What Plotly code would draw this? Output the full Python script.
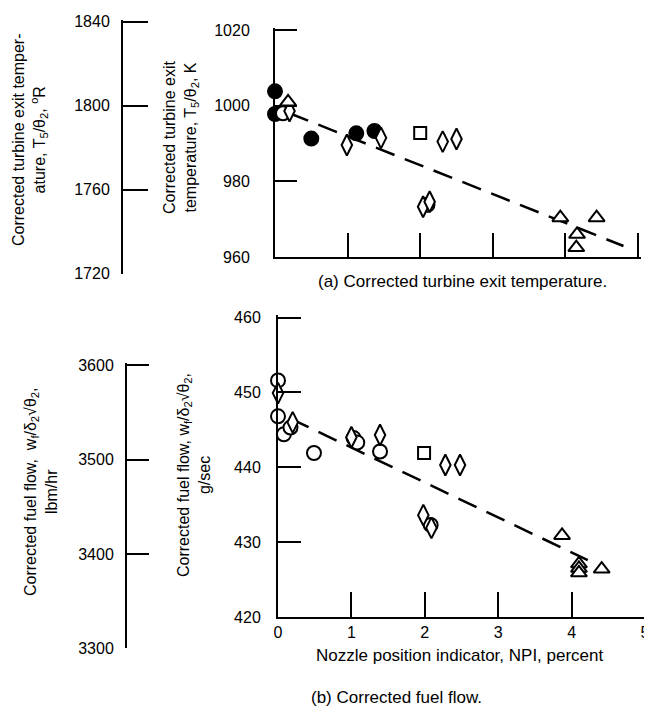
import plotly.graph_objects as go

# page is 652x716; the html body adds an 8 px margin before the figure starts
PAGE_W, PAGE_H, OFF = 652, 716, 8
W, H = PAGE_W, PAGE_H
FONT = "Liberation Sans, Arial, sans-serif"

# ---------------- data: (a) corrected turbine exit temperature, K ----------------
a_filled_x = [0.0, 0.0, 0.5, 1.12, 1.37]
a_filled_y = [1003.8, 997.8, 991.3, 992.7, 993.3]
a_circle_x = [0.11, 2.1]
a_circle_y = [998.0, 973.8]
a_diamond_x = [0.2, 0.99, 1.46, 2.04, 2.13, 2.31, 2.5]
a_diamond_y = [998.6, 989.6, 991.5, 973.3, 974.6, 990.5, 991.2]
a_square_x = [2.0]
a_square_y = [992.8]
a_triangle_x = [0.18, 3.93, 4.43, 4.16, 4.15]
a_triangle_y = [1001.0, 970.4, 970.4, 966.0, 962.5]
a_fit_x = [0.2, 4.8]
a_fit_y = [998.0, 962.9]

# ---------------- data: (b) corrected fuel flow, g/sec ----------------
b_circle_x = [0.0, 0.0, 0.08, 0.17, 0.49, 1.03, 1.08, 1.39, 2.08]
b_circle_y = [451.6, 446.8, 444.4, 445.3, 441.9, 443.9, 443.3, 442.1, 432.3]
b_diamond_x = [0.0, 0.2, 1.0, 1.39, 2.28, 2.48, 1.98, 2.09]
b_diamond_y = [449.9, 446.0, 444.0, 444.3, 440.3, 440.3, 433.6, 431.9]
b_square_x = [1.99]
b_square_y = [441.9]
b_triangle_x = [3.87, 4.1, 4.1, 4.1, 4.41]
b_triangle_y = [430.9, 427.1, 426.5, 425.9, 426.4]
b_fit_x = [0.17, 4.22]
b_fit_y = [446.5, 427.6]

# axis ticks
x_ticks = [0, 1, 2, 3, 4, 5]
k_ticks = [960, 980, 1000, 1020]
r_ticks = [1720, 1760, 1800, 1840]
gs_ticks = [420, 430, 440, 450, 460]
lb_ticks = [3300, 3400, 3500, 3600]

R_PER_K = 1.8
LBHR_TO_GS = 0.125998


def px(x):
    return (x - OFF) / W


def py(y):
    return 1 - (y - OFF) / H


PAD = 0.008


def padded(r, frac=PAD):
    # tiny extension past the last tick so plotly keeps the end tick mark
    return [r[0], r[1] + (r[1] - r[0]) * frac]


def dom_top(top, bot):
    return top - (bot - top) * PAD


def dom_right(left, right):
    return right + (right - left) * PAD


fig = go.Figure()

# page-pixel frame of the two panels
A_TOP, A_BOT = 30.0, 257.0   # 1020 K, 960 K
B_TOP, B_BOT = 317.5, 617.0  # 460, 420 g/s
x_range = [0, 5]
k_range = [960, 1020]
gs_range = [420, 460]
k_scale = (A_BOT - A_TOP) / (k_range[1] - k_range[0])
gs_scale = (B_BOT - B_TOP) / (gs_range[1] - gs_range[0])

# secondary (unit-converted) axes share the same physical scale
r_range = [1720, 1840]
r_top = A_TOP - (r_range[1] / R_PER_K - k_range[1]) * k_scale
r_bot = A_BOT + (k_range[0] - r_range[0] / R_PER_K) * k_scale
lb_range = [3300, 3600]
lb_top = B_TOP + (gs_range[1] - lb_range[1] * LBHR_TO_GS) * gs_scale
lb_bot = B_BOT + (gs_range[0] - lb_range[0] * LBHR_TO_GS) * gs_scale


def add_points(x, y, symbol, size, xa, ya, filled=False):
    fig.add_trace(go.Scatter(
        x=x, y=y, mode="markers", xaxis=xa, yaxis=ya, cliponaxis=False,
        showlegend=False, hoverinfo="skip",
        marker=dict(symbol=symbol, size=size,
                    color="black" if filled else "white",
                    line=dict(color="black", width=2))))


def add_fit(x, y, xa, ya):
    fig.add_trace(go.Scatter(
        x=x, y=y, mode="lines", xaxis=xa, yaxis=ya, cliponaxis=False,
        showlegend=False, hoverinfo="skip",
        line=dict(color="black", width=2.5, dash="20px,11px")))


# panel (a)
add_fit(a_fit_x, a_fit_y, "x", "y")
add_points(a_filled_x, a_filled_y, "circle", 14, "x", "y", filled=True)
add_points(a_circle_x, a_circle_y, "circle", 14, "x", "y")
add_points(a_diamond_x, a_diamond_y, "diamond-tall", 15, "x", "y")
add_points(a_square_x, a_square_y, "square", 12, "x", "y")
add_points(a_triangle_x, a_triangle_y, "triangle-up", 14, "x", "y")

# panel (b)
add_fit(b_fit_x, b_fit_y, "x2", "y2")
add_points(b_circle_x, b_circle_y, "circle", 14, "x2", "y2")
add_points(b_diamond_x, b_diamond_y, "diamond-tall", 15, "x2", "y2")
add_points(b_square_x, b_square_y, "square", 12, "x2", "y2")
add_points(b_triangle_x, b_triangle_y, "triangle-up", 14, "x2", "y2")

# empty traces so the converted-unit axes are drawn
fig.add_trace(go.Scatter(x=[], y=[], xaxis="x", yaxis="y3", showlegend=False))
fig.add_trace(go.Scatter(x=[], y=[], xaxis="x2", yaxis="y4", showlegend=False))

tickfont = dict(family=FONT, size=16, color="black")
common = dict(showgrid=False, zeroline=False, showline=True, linecolor="black",
              linewidth=2, ticks="inside", tickwidth=2, tickcolor="black",
              tickfont=tickfont, fixedrange=True, ticklabeloverflow="allow",
              automargin=False)

fig.update_layout(
    template="none",
    width=W, height=H, autosize=False,
    margin=dict(l=0, r=0, t=0, b=0, pad=0),
    paper_bgcolor="white", plot_bgcolor="rgba(0,0,0,0)",
    font=dict(family=FONT, color="black"),
    xaxis=dict(domain=[px(275), px(dom_right(275, 638))], range=padded(x_range),
               anchor="y", tickvals=x_ticks[1:], showticklabels=False, ticklen=24, **common),
    yaxis=dict(domain=[py(A_BOT), py(dom_top(A_TOP, A_BOT))], range=padded(k_range),
               anchor="x", tickvals=k_ticks, ticklen=22, ticklabelstandoff=20, **common),
    xaxis2=dict(domain=[px(278), px(dom_right(278, 645))], range=padded(x_range),
                anchor="y2", tickvals=x_ticks, ticklen=25, ticklabelstandoff=0, **common),
    yaxis2=dict(domain=[py(B_BOT), py(dom_top(B_TOP, B_BOT))], range=padded(gs_range),
                anchor="x2", tickvals=gs_ticks, ticklen=23, ticklabelstandoff=12, **common),
    yaxis3=dict(domain=[py(r_bot), py(dom_top(r_top, r_bot))], range=padded(r_range),
                anchor="free", position=px(122), tickvals=r_ticks, ticklen=25,
                ticklabelstandoff=8, **common),
    yaxis4=dict(domain=[py(lb_bot), py(dom_top(lb_top, lb_bot))], range=padded(lb_range),
                anchor="free", position=px(126), tickvals=lb_ticks, ticklen=22,
                ticklabelstandoff=8, **common),
)


def note(text, x, y, angle=0, size=16):
    fig.add_annotation(text=text, x=px(x), y=py(y), xref="paper", yref="paper",
                       xanchor="center", yanchor="middle",
                       showarrow=False, textangle=angle, align="center",
                       font=dict(family=FONT, size=size, color="black"))


note("Corrected turbine exit temper-<br>ature, T<sub>5</sub>/θ<sub>2</sub>, <sup>o</sup>R", 30, 140, -90, 16)
note("Corrected turbine exit<br>temperature, T<sub>5</sub>/θ<sub>2</sub>, K", 181, 137, -90)
note("Corrected fuel flow,  w<sub>f</sub>/δ<sub>2</sub>√θ<sub>2</sub>,<br>lbm/hr", 41, 492, -90)
note("Corrected fuel flow, w<sub>f</sub>/δ<sub>2</sub>√θ<sub>2</sub>,<br>g/sec", 194, 475, -90)
note("(a) Corrected turbine exit temperature.", 462, 281, size=17)
note("Nozzle position indicator, NPI, percent", 460, 655, size=17)
note("(b) Corrected fuel flow.", 396, 697, size=17)

fig.write_html("out.html")
